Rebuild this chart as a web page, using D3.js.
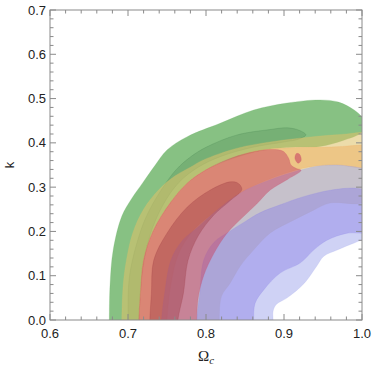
<!DOCTYPE html>
<html>
<head>
<meta charset="utf-8">
<script src="https://cdn.jsdelivr.net/npm/d3@7"></script>
<style>
  body { margin: 0; background: #fff; }
  svg { display: block; }
</style>
</head>
<body>
<svg width="374" height="366"></svg>
<script>
// tick values
const xMajor = [0.6, 0.7, 0.8, 0.9, 1.0];
const yMajor = [0.0, 0.1, 0.2, 0.3, 0.4, 0.5, 0.6, 0.7];

// contour outlines [Omega_c, k] (run past the frame, clipped)
const green95 = [[0.676,-0.03],[0.676,0],[0.677,0.08],[0.681,0.158],[0.692,0.234],[0.705,0.275],[0.719,0.31],[0.735,0.35],[0.75,0.384],[0.776,0.414],[0.818,0.444],[0.861,0.474],[0.904,0.49],[0.946,0.497],[0.97,0.492],[0.99,0.474],[1.0,0.458],[1.004,0.44],[1.0,0.424],
  [0.975,0.405],[0.946,0.392],[0.91,0.39],[0.882,0.386],[0.856,0.376],[0.827,0.36],[0.8,0.339],[0.776,0.309],[0.754,0.264],[0.732,0.2],[0.72,0.135],[0.716,0.06],[0.714,0],[0.714,-0.03]];
const green68 = [[0.70,-0.03],[0.70,0],[0.702,0.1],[0.716,0.2],[0.728,0.25],[0.745,0.3],[0.762,0.34],[0.78,0.368],[0.8,0.39],[0.84,0.418],[0.882,0.43],[0.904,0.434],[0.92,0.428],[0.928,0.418],[0.918,0.408],
  [0.9,0.402],[0.86,0.39],[0.82,0.37],[0.79,0.345],[0.765,0.31],[0.745,0.26],[0.728,0.19],[0.718,0.1],[0.714,0],[0.714,-0.03]];
const yellow95 = [[0.692,-0.03],[0.692,0],[0.694,0.083],[0.698,0.135],[0.706,0.196],[0.72,0.25],[0.74,0.295],[0.76,0.325],[0.78,0.345],[0.796,0.361],[0.84,0.388],[0.882,0.402],[0.917,0.41],[0.95,0.416],[0.98,0.42],[1.0,0.424],[1.03,0.424],[1.03,0.264],
  [1.0,0.264],[0.994,0.262],[0.959,0.264],[0.938,0.248],[0.913,0.226],[0.882,0.196],[0.861,0.158],[0.844,0.122],[0.831,0.083],[0.82,0.054],[0.817,0],[0.817,-0.03]];
const yellow68 = [[0.714,-0.03],[0.714,0],[0.716,0.06],[0.72,0.135],[0.732,0.2],[0.754,0.264],[0.776,0.309],[0.8,0.339],[0.827,0.36],[0.856,0.378],[0.882,0.386],[0.91,0.389],[0.946,0.39],[0.975,0.392],[1.0,0.395],[1.03,0.395],[1.03,0.343],
  [1.0,0.343],[0.968,0.35],[0.93,0.345],[0.9,0.33],[0.87,0.31],[0.844,0.287],[0.814,0.248],[0.785,0.205],[0.765,0.15],[0.755,0.08],[0.75,0],[0.75,-0.03]];
const blue95 = [[0.743,-0.03],[0.743,0],[0.747,0.06],[0.755,0.135],[0.77,0.18],[0.79,0.21],[0.814,0.248],[0.844,0.287],[0.88,0.315],[0.92,0.338],[0.945,0.348],[0.968,0.35],[0.99,0.346],[1.0,0.343],[1.03,0.34],[1.03,0.18],
  [1.0,0.18],[0.99,0.174],[0.968,0.158],[0.951,0.144],[0.942,0.122],[0.926,0.083],[0.904,0.05],[0.89,0.035],[0.886,0.02],[0.886,0],[0.886,-0.03]];
const blue68 = [[0.788,-0.03],[0.788,0],[0.792,0.06],[0.797,0.135],[0.81,0.175],[0.83,0.2],[0.85,0.222],[0.869,0.242],[0.895,0.26],[0.924,0.278],[0.959,0.293],[0.988,0.298],[1.0,0.296],[1.03,0.296],[1.03,0.196],
  [1.0,0.196],[0.981,0.196],[0.955,0.18],[0.938,0.158],[0.921,0.129],[0.895,0.106],[0.874,0.068],[0.863,0.038],[0.861,0],[0.861,-0.03]];
const red95 = [[0.714,-0.03],[0.714,0],[0.716,0.06],[0.72,0.135],[0.732,0.2],[0.754,0.264],[0.776,0.309],[0.8,0.339],[0.827,0.362],[0.856,0.378],[0.882,0.385],[0.899,0.381],[0.906,0.365],[0.909,0.35],[0.916,0.342],[0.922,0.338],
  [0.905,0.318],[0.882,0.293],[0.865,0.262],[0.847,0.232],[0.827,0.196],[0.81,0.15],[0.797,0.1],[0.79,0.05],[0.788,0],[0.788,-0.03]];
const redIsland = [[0.914,0.365],[0.916,0.376],[0.92,0.374],[0.922,0.36],[0.918,0.354]];
const red68 = [[0.728,-0.03],[0.728,0],[0.73,0.06],[0.733,0.135],[0.75,0.196],[0.776,0.255],[0.805,0.293],[0.831,0.312],[0.841,0.309],[0.846,0.295],
  [0.83,0.268],[0.81,0.237],[0.79,0.19],[0.777,0.135],[0.771,0.06],[0.764,0],[0.764,-0.03]];

const layers = [
  {pts: green95, fill: "rgb(105,178,100)", op: 0.8},
  {pts: green68, fill: "rgb(60,120,70)", op: 0.22},
  {pts: yellow95, fill: "rgb(222,194,106)", op: 0.57},
  {pts: yellow68, fill: "rgb(240,170,90)", op: 0.45},
  {pts: blue95, fill: "rgb(160,165,235)", op: 0.5},
  {pts: blue68, fill: "rgb(140,130,230)", op: 0.45},
  {pts: red95, fill: "rgb(200,70,100)", op: 0.5},
  {pts: redIsland, fill: "rgb(200,70,100)", op: 0.6},
  {pts: red68, fill: "rgb(150,50,60)", op: 0.35}
];

const W = 374, H = 366;
const margin = {left: 50, right: 12, top: 10, bottom: 46};
const svg = d3.select("svg");

const x = d3.scaleLinear().domain([0.6, 1.0]).range([margin.left, W - margin.right]);
const y = d3.scaleLinear().domain([0, 0.7]).range([H - margin.bottom, margin.top]);

svg.append("clipPath").attr("id", "plot")
  .append("rect")
    .attr("x", x(0.6)).attr("y", y(0.7))
    .attr("width", x(1.0) - x(0.6)).attr("height", y(0) - y(0.7));

const line = d3.line()
  .x(d => x(d[0]))
  .y(d => y(d[1]))
  .curve(d3.curveCatmullRomClosed.alpha(0.5));

svg.append("g")
  .attr("clip-path", "url(#plot)")
  .selectAll("path")
  .data(layers)
  .join("path")
    .attr("d", d => line(d.pts))
    .attr("fill", d => d.fill)
    .attr("fill-opacity", d => d.op)
    .attr("stroke", d => d.fill)
    .attr("stroke-opacity", 0.3)
    .attr("stroke-width", 0.7);

// frame with inward ticks
const frame = svg.append("g").attr("stroke", "#8a8a8a").attr("stroke-width", 1);
frame.append("rect")
  .attr("x", x(0.6)).attr("y", y(0.7))
  .attr("width", x(1.0) - x(0.6)).attr("height", y(0) - y(0.7))
  .attr("fill", "none");

const xMinor = d3.range(0.6, 1.0001, 0.02);
const yMinor = d3.range(0, 0.7001, 0.02);
const isMajor = v => Math.abs(v * 10 - Math.round(v * 10)) < 1e-6;

for (const v of xMinor) {
  const len = isMajor(v) ? 6 : 3.5;
  frame.append("line").attr("x1", x(v)).attr("x2", x(v)).attr("y1", y(0)).attr("y2", y(0) - len);
  frame.append("line").attr("x1", x(v)).attr("x2", x(v)).attr("y1", y(0.7)).attr("y2", y(0.7) + len);
}
for (const v of yMinor) {
  const len = isMajor(v) ? 6 : 3.5;
  frame.append("line").attr("y1", y(v)).attr("y2", y(v)).attr("x1", x(0.6)).attr("x2", x(0.6) + len);
  frame.append("line").attr("y1", y(v)).attr("y2", y(v)).attr("x1", x(1.0)).attr("x2", x(1.0) - len);
}

const fmt = d3.format(".1f");
const labels = svg.append("g")
  .attr("font-family", "'Liberation Sans', Arial, sans-serif")
  .attr("font-size", 13)
  .attr("fill", "#222");

labels.selectAll(".xl").data(xMajor).join("text")
  .attr("x", d => x(d)).attr("y", y(0) + 18)
  .attr("text-anchor", "middle")
  .text(fmt);

labels.selectAll(".yl").data(yMajor).join("text")
  .attr("x", x(0.6) - 4).attr("y", d => y(d) + 4.5)
  .attr("text-anchor", "end")
  .text(fmt);

labels.append("text")
  .attr("transform", `translate(14, ${(y(0) + y(0.7)) / 2}) rotate(-90)`)
  .attr("text-anchor", "middle")
  .text("k");

const xl = svg.append("text")
  .attr("x", (x(0.6) + x(1.0)) / 2)
  .attr("y", 361)
  .attr("text-anchor", "middle")
  .attr("font-family", "'Liberation Serif', 'Times New Roman', serif")
  .attr("font-size", 15)
  .attr("fill", "#222");
xl.append("tspan").text("Ω");
xl.append("tspan").attr("font-style", "italic").attr("font-size", 11).attr("dy", 3).text("c");
</script>
</body>
</html>
